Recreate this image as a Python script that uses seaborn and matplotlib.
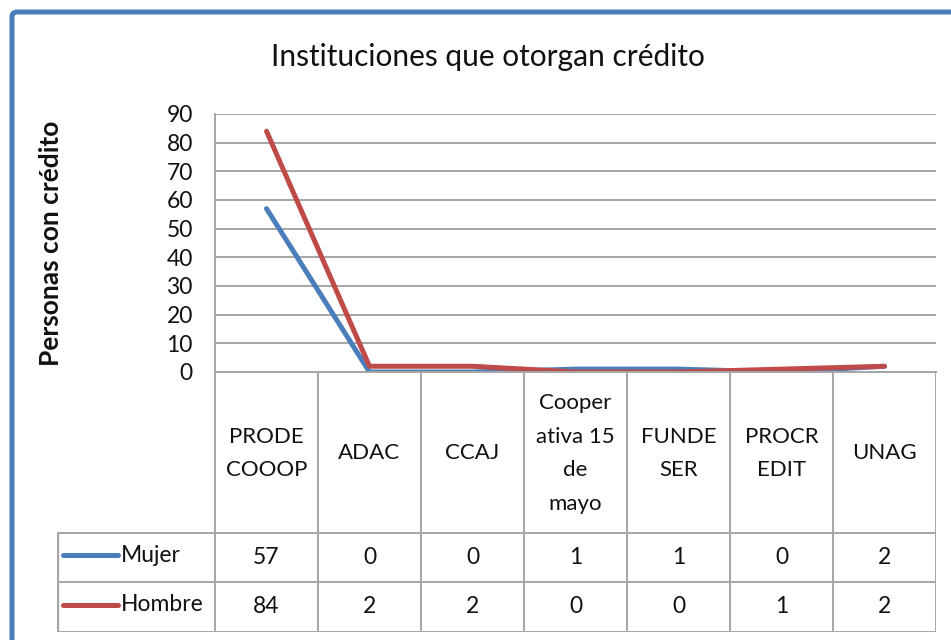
import numpy as np
import pandas as pd
import matplotlib.pyplot as plt
import matplotlib.patches as mpatches
import seaborn as sns

# data
instituciones = ['PRODE\nCOOOP', 'ADAC', 'CCAJ', 'Cooper\nativa 15\nde\nmayo',
                 'FUNDE\nSER', 'PROCR\nEDIT', 'UNAG']
mujer = [57, 0, 0, 1, 1, 0, 2]
hombre = [84, 2, 2, 0, 0, 1, 2]
series_names = ['Mujer', 'Hombre']
y_ticks = [0, 10, 20, 30, 40, 50, 60, 70, 80, 90]

colors = {'Mujer': '#4a7ebb', 'Hombre': '#be4b48'}
GRID = '#a6a6a6'
TXT = '#111111'

sns.set_theme(style='white')
plt.rcParams['font.family'] = ['Lato', 'DejaVu Sans']

W, H = 951, 640
fig = plt.figure(figsize=(W / 100, H / 100), dpi=100)
fig.patch.set_facecolor('white')

# outer rounded frame (Excel chart area)
frame = mpatches.FancyBboxPatch((0.12, -0.3), 9.7, 6.58,
                                boxstyle='round,pad=0,rounding_size=0.05',
                                transform=fig.dpi_scale_trans, fill=False,
                                edgecolor='#4a7ebb', linewidth=3.6, zorder=10)
fig.patches.append(frame)

# plot area in pixels
px_l, px_r, px_t, px_b = 215, 936, 114, 372
ax = fig.add_axes([px_l / W, 1 - px_b / H, (px_r - px_l) / W, (px_b - px_t) / H])

n = len(instituciones)
df = pd.DataFrame({
    'idx': list(range(n)) * 2,
    'valor': mujer + hombre,
    'serie': [series_names[0]] * n + [series_names[1]] * n,
})
sns.lineplot(data=df, x='idx', y='valor', hue='serie', palette=colors,
             hue_order=series_names, linewidth=3.6, legend=False, ax=ax,
             solid_capstyle='round')

ax.set_xlim(-0.5, n - 0.5)
ax.set_ylim(0, 90)
ax.set_yticks(y_ticks)
ax.set_xticks([])
ax.grid(axis='y', color=GRID, linewidth=1.4)
ax.set_axisbelow(True)
for s in ['top', 'right']:
    ax.spines[s].set_visible(False)
for s in ['left', 'bottom']:
    ax.spines[s].set_color(GRID)
    ax.spines[s].set_linewidth(1.4)
ax.tick_params(axis='y', length=0, pad=16, labelsize=16.5, labelcolor=TXT)
ax.set_xlabel('')
ax.set_ylabel('Personas con crédito', fontsize=19, fontweight='bold', color=TXT)
ax.yaxis.set_label_coords(-0.211, 0.5)

fig.text(488 / W, 1 - 57 / H, 'Instituciones que otorgan crédito',
         ha='center', va='center', fontsize=21.5, color=TXT)

# data table under the plot area
cw = (px_r - px_l) / n
tb_l, tb_b = 57, 632
row_edges = [372, 533, 582, 632]
tx0 = -0.5 - (px_l - tb_l) / cw
axt = fig.add_axes([tb_l / W, 1 - tb_b / H, (px_r - tb_l) / W, (tb_b - px_b) / H])
axt.set_xlim(tx0, n - 0.5)
axt.set_ylim(tb_b, px_b)
axt.axis('off')

col_edges = np.arange(n + 1) - 0.5
axt.vlines(col_edges, row_edges[0], row_edges[-1], color=GRID, linewidth=1.4)
axt.vlines([tx0], row_edges[1], row_edges[-1], color=GRID, linewidth=2.4)
axt.hlines(row_edges[1:], tx0, n - 0.5, color=GRID, linewidth=1.4)

hdr_y = (row_edges[0] + row_edges[1]) / 2
for i, lab in enumerate(instituciones):
    axt.text(i, hdr_y + 1, lab, ha='center', va='center', fontsize=16,
             color=TXT, linespacing=1.85)

for r, (name, vals) in enumerate(zip(series_names, [mujer, hombre])):
    yc = (row_edges[r + 1] + row_edges[r + 2]) / 2
    for i, v in enumerate(vals):
        axt.text(i, yc, str(v), ha='center', va='center', fontsize=16.5, color=TXT)
    axt.plot([tx0 + 6 / cw, tx0 + 61 / cw], [yc - 2, yc - 2], color=colors[name],
             linewidth=3.6, solid_capstyle='round')
    axt.text(tx0 + 64 / cw, yc - 2, name, ha='left', va='center', fontsize=16.5,
             color=TXT)

fig.savefig('out.png', dpi=100)
